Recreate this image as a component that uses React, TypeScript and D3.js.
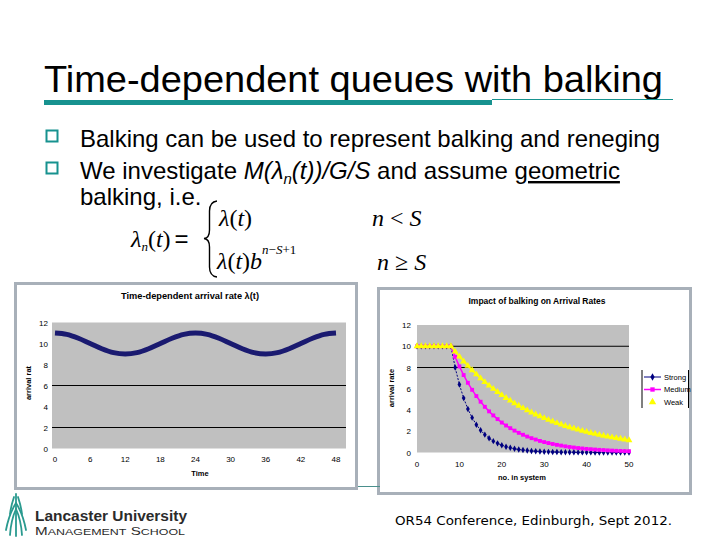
import React from "react";
import * as d3 from "d3";

// ---------- data ----------
const timeHours = [0, 2, 4, 6, 8, 10, 12, 14, 16, 18, 20, 22, 24, 26, 28, 30, 32, 34, 36, 38, 40, 42, 44, 46, 48];
const arrivalRate = [11, 10.87, 10.5, 10, 9.5, 9.13, 9, 9.13, 9.5, 10, 10.5, 10.87, 11, 10.87, 10.5, 10, 9.5, 9.13, 9, 9.13, 9.5, 10, 10.5, 10.87, 11];
const timeTicks = [0, 6, 12, 18, 24, 30, 36, 42, 48];
const rateTicks = [0, 2, 4, 6, 8, 10, 12];
const leftGridLines = [2, 6];

const systemSize = d3.range(0, 51);
const strong = [10, 10, 10, 10, 10, 10, 10, 10, 10, 8, 6.4, 5.12, 4.1, 3.28, 2.62, 2.1, 1.68, 1.34, 1.07, 0.86, 0.69, 0.55, 0.44, 0.35, 0.28, 0.23, 0.18, 0.14, 0.12, 0.09, 0.07, 0.06, 0.05, 0.04, 0.03, 0.02, 0.02, 0.02, 0.01, 0.01, 0.01, 0.01, 0, 0, 0, 0, 0, 0, 0, 0, 0];
const medium = [10, 10, 10, 10, 10, 10, 10, 10, 10, 9, 8.1, 7.29, 6.56, 5.9, 5.31, 4.78, 4.3, 3.87, 3.49, 3.14, 2.82, 2.54, 2.29, 2.06, 1.85, 1.67, 1.5, 1.35, 1.22, 1.09, 0.98, 0.89, 0.8, 0.72, 0.65, 0.58, 0.52, 0.47, 0.42, 0.38, 0.34, 0.31, 0.28, 0.25, 0.23, 0.2, 0.18, 0.16, 0.15, 0.13, 0.12];
const weak = [10, 10, 10, 10, 10, 10, 10, 10, 10, 9.5, 9.03, 8.57, 8.15, 7.74, 7.35, 6.98, 6.63, 6.3, 5.99, 5.69, 5.4, 5.13, 4.88, 4.63, 4.4, 4.18, 3.97, 3.77, 3.58, 3.41, 3.24, 3.07, 2.92, 2.77, 2.64, 2.5, 2.38, 2.26, 2.15, 2.04, 1.94, 1.84, 1.75, 1.66, 1.58, 1.5, 1.42, 1.35, 1.29, 1.22, 1.16];
const seriesNames = ["Strong", "Medium", "Weak"];
const systemTicks = [0, 10, 20, 30, 40, 50];
const rightGridLines = [8, 10];

const TEAL = "#17928f";
const FRAME = "#a8b0b9";
const PLOT_BG = "#c0c0c0";
const SANS = "'Liberation Sans', Arial, sans-serif";
const SERIF = "'Liberation Serif', 'Times New Roman', serif";

const seriesStyle = [
  { color: "#000080", symbol: d3.symbolDiamond, size: 12, width: 1, dash: "2,1.5" },
  { color: "#ff00ff", symbol: d3.symbolSquare, size: 15, width: 1.5, dash: "" },
  { color: "#ffff00", symbol: d3.symbolTriangle, size: 20, width: 1.5, dash: "" },
];

export default function App() {
  const xL = d3.scaleLinear().domain([0, 48]).range([55, 336]);
  const yL = d3.scaleLinear().domain([0, 12]).range([448.5, 322.5]);
  const lineL = d3
    .line<number>()
    .x((_, i) => xL(timeHours[i]))
    .y((d) => yL(d))
    .curve(d3.curveMonotoneX);

  const xR = d3.scaleLinear().domain([0, 50]).range([417, 629]);
  const yR = d3.scaleLinear().domain([0, 12]).range([452.5, 325]);
  const lineR = d3
    .line<number>()
    .x((_, i) => xR(systemSize[i]))
    .y((d) => yR(d));
  const allSeries = [strong, medium, weak];

  return (
    <svg width={720} height={540} style={{ position: "absolute", left: 0, top: 0, background: "#fff" }}>
      {/* Slide title */}
      <text x={44} y={92} fontFamily={SANS} fontSize={37} textLength={619} lengthAdjust="spacingAndGlyphs" fill="#000">
        Time-dependent queues with balking
      </text>
      <rect x={44} y={100} width={448} height={5} fill={TEAL} />
      <line x1={492} x2={673} y1={99.5} y2={99.5} stroke={TEAL} strokeWidth={1} />

      {/* Bullets */}
      <rect x={46.5} y={130.5} width={11} height={11} fill="none" stroke={TEAL} strokeWidth={2} />
      <text x={80} y={147} fontFamily={SANS} fontSize={24} textLength={580} lengthAdjust="spacingAndGlyphs">
        Balking can be used to represent balking and reneging
      </text>
      <rect x={46.5} y={162.5} width={11} height={11} fill="none" stroke={TEAL} strokeWidth={2} />
      <text x={80} y={179} fontFamily={SANS} fontSize={24}>
        We investigate{" "}
        <tspan fontStyle="italic">M(λ</tspan>
        <tspan fontStyle="italic" fontSize={15} dy={5}>n</tspan>
        <tspan fontStyle="italic" dy={-5}>(t))/G/S</tspan> and assume{" "}
        <tspan textDecoration="underline">geometric</tspan>
      </text>
      <text x={80} y={205} fontFamily={SANS} fontSize={24}>
        balking, i.e.
      </text>

      {/* Formula */}
      <g fontFamily={SERIF} fontSize={24} fill="#000">
        <text x={131} y={247}>
          <tspan fontStyle="italic">λ</tspan>
          <tspan fontStyle="italic" fontSize={13} dy={4}>n</tspan>
          <tspan dy={-4}>(</tspan>
          <tspan fontStyle="italic">t</tspan>)
          <tspan fontFamily={SANS} dx={4}>=</tspan>
        </text>
        <path
          d="M217,201 Q209.5,202 209.5,211 L209.5,230 Q209.5,238 204,238.5 Q209.5,239 209.5,247 L209.5,267 Q209.5,276 217,277"
          fill="none"
          stroke="#000"
          strokeWidth={1.4}
        />
        <text x={219} y={226}>
          <tspan fontStyle="italic">λ</tspan>(<tspan fontStyle="italic">t</tspan>)
        </text>
        <text x={372} y={226}>
          <tspan fontStyle="italic">n</tspan> &lt; <tspan fontStyle="italic">S</tspan>
        </text>
        <text x={217} y={269}>
          <tspan fontStyle="italic">λ</tspan>(<tspan fontStyle="italic">t</tspan>)<tspan fontStyle="italic">b</tspan>
          <tspan fontSize={13} dy={-15}>
            <tspan fontStyle="italic">n</tspan>−<tspan fontStyle="italic">S</tspan>+1
          </tspan>
        </text>
        <text x={377} y={270}>
          <tspan fontStyle="italic">n</tspan> ≥ <tspan fontStyle="italic">S</tspan>
        </text>
      </g>

      {/* ---------- Left chart ---------- */}
      <rect x={15.5} y={283.5} width={341} height={205} fill="#fff" stroke={FRAME} strokeWidth={3} />
      <text x={190} y={299} textAnchor="middle" fontFamily={SANS} fontSize={8.5} fontWeight="bold" textLength={138} lengthAdjust="spacingAndGlyphs">
        Time-dependent arrival rate λ(t)
      </text>
      <rect x={52} y={yL(12)} width={294} height={yL(0) - yL(12)} fill={PLOT_BG} />
      {leftGridLines.map((v) => (
        <line key={v} x1={52} x2={346} y1={yL(v)} y2={yL(v)} stroke="#000" strokeWidth={1} />
      ))}
      {rateTicks.map((v) => (
        <text key={v} x={48} y={yL(v) + 3} textAnchor="end" fontFamily={SANS} fontSize={8}>
          {v}
        </text>
      ))}
      {timeTicks.map((v) => (
        <text key={v} x={xL(v)} y={462} textAnchor="middle" fontFamily={SANS} fontSize={8}>
          {v}
        </text>
      ))}
      <path d={lineL(arrivalRate) || ""} fill="none" stroke="#1a1a70" strokeWidth={5} />
      <text transform="translate(31,383) rotate(-90)" textAnchor="middle" fontFamily={SANS} fontSize={7.5} fontWeight="bold">
        arrival rat
      </text>
      <text x={200} y={476} textAnchor="middle" fontFamily={SANS} fontSize={7.5} fontWeight="bold">
        Time
      </text>

      {/* ---------- Right chart ---------- */}
      <rect x={378.5} y={288.5} width={312} height={205} fill="#fff" stroke={FRAME} strokeWidth={3} />
      <line x1={358} x2={380} y1={486.5} y2={486.5} stroke="#4a8f8c" strokeWidth={1} />
      <text x={537} y={304} textAnchor="middle" fontFamily={SANS} fontSize={8.5} fontWeight="bold" textLength={137} lengthAdjust="spacingAndGlyphs">
        Impact of balking on Arrival Rates
      </text>
      <rect x={417} y={yR(12)} width={212} height={yR(0) - yR(12)} fill={PLOT_BG} />
      {rightGridLines.map((v) => (
        <line key={v} x1={417} x2={629} y1={yR(v)} y2={yR(v)} stroke="#000" strokeWidth={1} />
      ))}
      {rateTicks.map((v) => (
        <text key={v} x={411} y={yR(v) + 3} textAnchor="end" fontFamily={SANS} fontSize={8}>
          {v}
        </text>
      ))}
      {systemTicks.map((v) => (
        <text key={v} x={xR(v)} y={467} textAnchor="middle" fontFamily={SANS} fontSize={8}>
          {v}
        </text>
      ))}
      <text transform="translate(394,388) rotate(-90)" textAnchor="middle" fontFamily={SANS} fontSize={7.5} fontWeight="bold">
        arrival rate
      </text>
      <text x={522} y={480} textAnchor="middle" fontFamily={SANS} fontSize={7.5} fontWeight="bold">
        no. in system
      </text>
      {allSeries.map((vals, si) => {
        const st = seriesStyle[si];
        const sym = d3.symbol().type(st.symbol).size(st.size)();
        return (
          <g key={si}>
            <path d={lineR(vals) || ""} fill="none" stroke={st.color} strokeWidth={st.width} strokeDasharray={st.dash || undefined} />
            {vals.map((v, i) => (
              <path key={i} d={sym || ""} transform={`translate(${xR(systemSize[i])},${yR(v)})`} fill={st.color} />
            ))}
          </g>
        );
      })}
      {/* Legend */}
      <line x1={642} x2={642} y1={370} y2={408} stroke="#000" strokeWidth={1} />
      <line x1={688.5} x2={688.5} y1={370} y2={408} stroke="#000" strokeWidth={1} />
      {seriesNames.map((name, i) => {
        const st = seriesStyle[i];
        const ly = 377 + i * 12.5;
        const sym = d3.symbol().type(st.symbol).size(st.size + 4)();
        return (
          <g key={name}>
            {i < 2 && <line x1={644} x2={661} y1={ly} y2={ly} stroke={st.color} strokeWidth={st.width} />}
            <path d={sym || ""} transform={`translate(652.5,${ly})`} fill={st.color} />
            <text x={664} y={ly + 2.5} fontFamily={SANS} fontSize={7.5}>
              {name}
            </text>
          </g>
        );
      })}

      {/* Footer */}
      <g stroke="#2a9a8f" strokeWidth={1.8} fill="none" strokeLinecap="round">
        <path d="M16,494 L16,536" />
        <path d="M16,503 Q9,514 6,530" />
        <path d="M16,509 Q11,520 10,535" />
        <path d="M16,503 Q23,514 26,530" />
        <path d="M16,509 Q21,520 22,535" />
        <path d="M14,497 Q11,506 10,514" />
        <path d="M18,497 Q21,506 22,514" />
      </g>
      <text x={35} y={521} fontFamily={SANS} fontSize={14} fontWeight="bold" fill="#2b2b2b" textLength={152} lengthAdjust="spacingAndGlyphs">
        Lancaster University
      </text>
      <text x={35} y={535} fontFamily={SANS} fontSize={11} fill="#2b2b2b" textLength={150} lengthAdjust="spacingAndGlyphs">
        M<tspan fontSize={9}>ANAGEMENT</tspan> S<tspan fontSize={9}>CHOOL</tspan>
      </text>
      <text x={395} y={525} fontFamily="'DejaVu Sans', Verdana, sans-serif" fontSize={12.5} fill="#000" textLength={277} lengthAdjust="spacingAndGlyphs">
        OR54 Conference, Edinburgh, Sept 2012.
      </text>
    </svg>
  );
}
